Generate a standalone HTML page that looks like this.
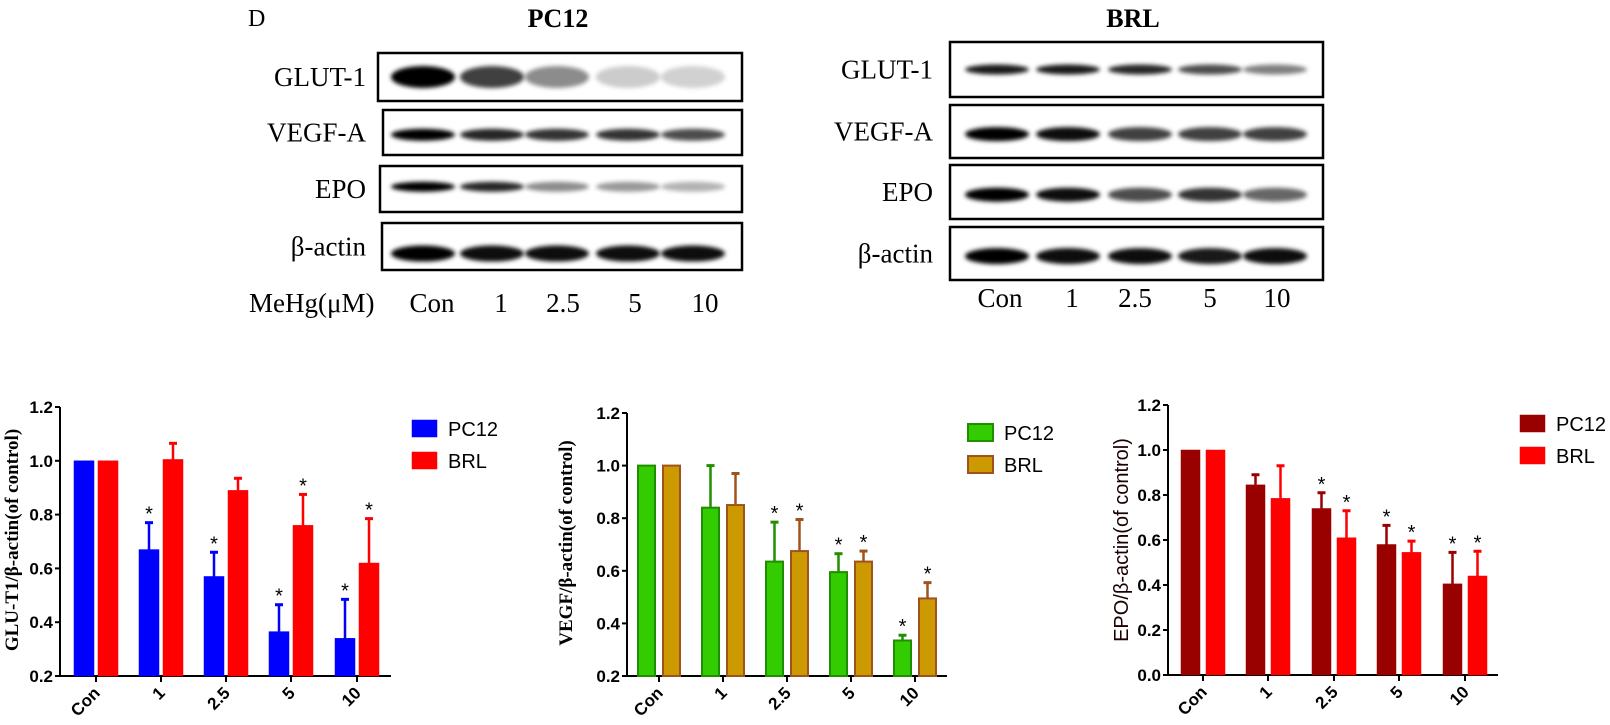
<!DOCTYPE html>
<html><head><meta charset="utf-8"><style>
html,body{margin:0;padding:0;background:#fff;}
svg{display:block;}
</style></head><body>
<svg id="fig" width="1610" height="725" viewBox="0 0 1610 725" xmlns="http://www.w3.org/2000/svg">
<defs><filter id="blur" x="-20%" y="-100%" width="140%" height="300%"><feGaussianBlur stdDeviation="2"/></filter></defs>
<g id="blots"></g>
<g id="charts"></g>
</svg>
<script>
// ---- chart data ----
const categories = ["Con","1","2.5","5","10"];
const glutPC12 = [1.0,0.67,0.57,0.365,0.34];
const glutPC12Err = [0,0.10,0.09,0.10,0.145];
const glutBRL = [1.0,1.005,0.89,0.76,0.62];
const glutBRLErr = [0,0.06,0.045,0.115,0.165];
const glutPC12Star = [0,1,1,1,1];
const glutBRLStar = [0,0,0,1,1];
const vegfPC12 = [1.0,0.84,0.635,0.595,0.335];
const vegfPC12Err = [0,0.16,0.15,0.07,0.02];
const vegfBRL = [1.0,0.85,0.675,0.635,0.495];
const vegfBRLErr = [0,0.12,0.12,0.04,0.06];
const vegfPC12Star = [0,0,1,1,1];
const vegfBRLStar = [0,0,1,1,1];
const epoPC12 = [1.0,0.845,0.74,0.58,0.405];
const epoPC12Err = [0,0.045,0.07,0.085,0.14];
const epoBRL = [1.0,0.785,0.61,0.545,0.44];
const epoBRLErr = [0,0.145,0.12,0.05,0.11];
const epoPC12Star = [0,0,1,1,1];
const epoBRLStar = [0,0,1,1,1];
const ticks1 = ["0.2","0.4","0.6","0.8","1.0","1.2"];
const ticks3 = ["0.0","0.2","0.4","0.6","0.8","1.0","1.2"];
const seriesNames = ["PC12","BRL"];
// blot band intensities (0..1)
const pcGlut=[1,0.75,0.45,0.2,0.18], pcVegf=[1,0.85,0.8,0.8,0.7], pcEpo=[1,0.85,0.45,0.4,0.3], pcAct=[1,0.95,0.95,0.95,0.95];
const brGlut=[0.9,0.9,0.85,0.7,0.5], brVegf=[1,0.95,0.75,0.75,0.75], brEpo=[1,0.95,0.7,0.8,0.6], brAct=[1,0.95,0.95,0.9,0.95];

const NS="http://www.w3.org/2000/svg";
function mk(tag,attrs,parent,text){const e=document.createElementNS(NS,tag);for(const k in attrs)e.setAttribute(k,attrs[k]);if(text!==undefined)e.textContent=text;parent.appendChild(e);return e;}

// ---- blots ----
const blots=document.getElementById('blots');
function blotPanel(cfg){
  const g=mk('g',{},blots);
  
  
  const t=mk('text',{x:cfg.titleX,y:27,'font-family':'Liberation Serif, serif','font-weight':'bold','font-size':26,'text-anchor':'middle'},g,cfg.title);
  
  
  cfg.rows.forEach(r=>{
    const box=mk('rect',{x:r.x1,y:r.y1,width:r.x2-r.x1,height:r.y2-r.y1,fill:'#fff',stroke:'#000','stroke-width':2.5},g);
    
    
    const lb=mk('text',{x:cfg.labelX,y:(r.y1+r.y2)/2+9,'font-family':'Liberation Serif, serif','font-size':27,'text-anchor':'end'},g,r.label);
    
    
    const by=r.y1+(r.y2-r.y1)*r.pos;
    cfg.lanes.forEach((cx,i)=>{
      const v=r.vals[i];
      const band=mk('ellipse',{cx:cx,cy:by,rx:32,ry:r.h,fill:'#000','fill-opacity':v,filter:'url(#blur)'},g);
      
      
    });
  });
  cfg.laneLabels.forEach((lx,i)=>{
    const tl=mk('text',{x:lx,y:cfg.laneY,'font-family':'Liberation Serif, serif','font-size':27,'text-anchor':'middle'},g,categories[i]);
    
    
  });
}
const dl=mk('text',{x:248,y:26,'font-family':'Liberation Serif, serif','font-size':24},blots,'D');


const mh=mk('text',{x:249,y:312,'font-family':'Liberation Serif, serif','font-size':27},blots,'MeHg(μM)');


blotPanel({name:'pc12-blot',title:'PC12',titleX:558,labelX:366,laneY:312,
  lanes:[423,492,557,628,693],laneLabels:[432,501,563,635,705],
  rows:[{label:'GLUT-1',x1:378,y1:53,x2:742,y2:101,vals:pcGlut,pos:0.5,h:11},
        {label:'VEGF-A',x1:383,y1:110,x2:742,y2:155,vals:pcVegf,pos:0.55,h:6},
        {label:'EPO',x1:380,y1:166,x2:742,y2:212,vals:pcEpo,pos:0.45,h:5},
        {label:'β-actin',x1:382,y1:223,x2:742,y2:270,vals:pcAct,pos:0.65,h:8}]});
blotPanel({name:'brl-blot',title:'BRL',titleX:1133,labelX:933,laneY:307,
  lanes:[997,1068,1140,1210,1275],laneLabels:[1000,1072,1135,1210,1277],
  rows:[{label:'GLUT-1',x1:950,y1:42,x2:1323,y2:97,vals:brGlut,pos:0.5,h:5},
        {label:'VEGF-A',x1:950,y1:105,x2:1323,y2:158,vals:brVegf,pos:0.55,h:7},
        {label:'EPO',x1:950,y1:165,x2:1323,y2:219,vals:brEpo,pos:0.55,h:7},
        {label:'β-actin',x1:950,y1:227,x2:1323,y2:280,vals:brAct,pos:0.55,h:8}]});

// ---- charts ----
const charts=document.getElementById('charts');
function chart(c){
  const g=mk('g',{},charts);
  
  
  const y=v=>c.y0px-(v-c.ymin)/(c.ymax-c.ymin)*(c.y0px-c.y1px);
  const xs=c.tickX;
  const ya=mk('line',{x1:c.ax,y1:c.y1px,x2:c.ax,y2:c.y0px,stroke:'#000','stroke-width':2},g);
  
  
  const xa=mk('line',{x1:c.ax,y1:c.y0px,x2:c.axEnd,y2:c.y0px,stroke:'#000','stroke-width':2},g);
  
  
  c.ticks.forEach(t=>{
    const ty=y(parseFloat(t));
    mk('line',{x1:c.ax-5,y1:ty,x2:c.ax,y2:ty,stroke:'#000','stroke-width':2},g);
    const tl=mk('text',{x:c.ax-7,y:ty+6,'font-family':'Liberation Sans, sans-serif','font-weight':'bold','font-size':17,'text-anchor':'end'},g,t);
    
    
  });
  categories.forEach((cat,i)=>{
    mk('line',{x1:xs[i],y1:c.y0px,x2:xs[i],y2:c.y0px+6,stroke:'#000','stroke-width':2},g);
    const tx=xs[i]+5, ty=c.y0px+18;
    const tl=mk('text',{x:tx,y:ty,'font-family':'Liberation Sans, sans-serif','font-weight':'bold','font-size':17,'text-anchor':'end',transform:`rotate(-45 ${tx} ${ty})`},g,cat);
    
    
  });
  const series=[[c.a,c.aErr,c.aStar,c.aFill,c.aStroke,-c.off-c.bw],[c.b,c.bErr,c.bStar,c.bFill,c.bStroke,c.off]];
  series.forEach((s,si)=>{
    const [vals,errs,stars,fill,stroke,dx]=s;
    vals.forEach((v,i)=>{
      const bx=xs[i]+dx, top=y(v);
      const r=mk('rect',{x:bx,y:top,width:c.bw,height:c.y0px-top,fill:fill,stroke:stroke,'stroke-width':c.sw},g);
      
      
      const cx=bx+c.bw/2;
      if(errs[i]>0){
        const ey=y(v+errs[i]);
        const el=mk('line',{x1:cx,y1:top,x2:cx,y2:ey,stroke:stroke,'stroke-width':2.5},g);
        
        
        mk('line',{x1:cx-4,y1:ey,x2:cx+4,y2:ey,stroke:stroke,'stroke-width':3},g);
        if(stars[i]){
          const st=mk('text',{x:cx,y:ey-2,'font-family':'Liberation Sans, sans-serif','font-size':20,'text-anchor':'middle'},g,'*');
          
          
        }
      }
    });
  });
  [[c.aFill,c.aStroke],[c.bFill,c.bStroke]].forEach((col,i)=>{
    const ly=c.legY+i*32;
    const sw=mk('rect',{x:c.legX,y:ly,width:25,height:17,fill:col[0],stroke:col[1],'stroke-width':c.sw},g);
    
    
    const lt=mk('text',{x:c.legX+36,y:ly+16,'font-family':'Liberation Sans, sans-serif','font-size':20},g,seriesNames[i]);
    
    
  });
  const yl=mk('text',{x:c.ylx,y:c.yly,'font-family':c.ylFont,'font-weight':c.ylWeight,'font-size':c.ylSize,fill:c.ylColor,'text-anchor':'middle',transform:`rotate(-90 ${c.ylx} ${c.yly})`},g,c.ylabel);
  
  
}
chart({name:'glut1-chart',ax:60,axEnd:391,y0px:676,y1px:407,ymin:0.2,ymax:1.2,ticks:ticks1,
  tickX:[96,161,226,291,357],bw:20,off:2,sw:0.5,
  a:glutPC12,aErr:glutPC12Err,aStar:glutPC12Star,aFill:'#0000ff',aStroke:'#0000ff',
  b:glutBRL,bErr:glutBRLErr,bStar:glutBRLStar,bFill:'#ff0000',bStroke:'#ff0000',
  legX:412,legY:420,ylx:18,yly:540,ylabel:'GLU-T1/β-actin(of control)',ylFont:'Liberation Serif, serif',ylWeight:'bold',ylSize:19,ylColor:'#000'});
chart({name:'vegf-chart',ax:627,axEnd:947,y0px:676,y1px:413,ymin:0.2,ymax:1.2,ticks:ticks1,
  tickX:[659,723,787,851,915],bw:17,off:4,sw:2,
  a:vegfPC12,aErr:vegfPC12Err,aStar:vegfPC12Star,aFill:'#33cc00',aStroke:'#1f8f00',
  b:vegfBRL,bErr:vegfBRLErr,bStar:vegfBRLStar,bFill:'#cc9900',bStroke:'#a0521d',
  legX:968,legY:424,ylx:572,yly:543,ylabel:'VEGF/β-actin(of control)',ylFont:'Liberation Serif, serif',ylWeight:'bold',ylSize:19,ylColor:'#000'});
chart({name:'epo-chart',ax:1168,axEnd:1498,y0px:675,y1px:405,ymin:0,ymax:1.2,ticks:ticks3,
  tickX:[1203,1268,1334,1399,1465],bw:19,off:3,sw:0.5,
  a:epoPC12,aErr:epoPC12Err,aStar:epoPC12Star,aFill:'#990000',aStroke:'#990000',
  b:epoBRL,bErr:epoBRLErr,bStar:epoBRLStar,bFill:'#ff0000',bStroke:'#ff0000',
  legX:1520,legY:415,ylx:1128,yly:540,ylabel:'EPO/β-actin(of control)',ylFont:'Liberation Sans, sans-serif',ylWeight:'normal',ylSize:20,ylColor:'#1a0000'});
</script>
</body></html>
